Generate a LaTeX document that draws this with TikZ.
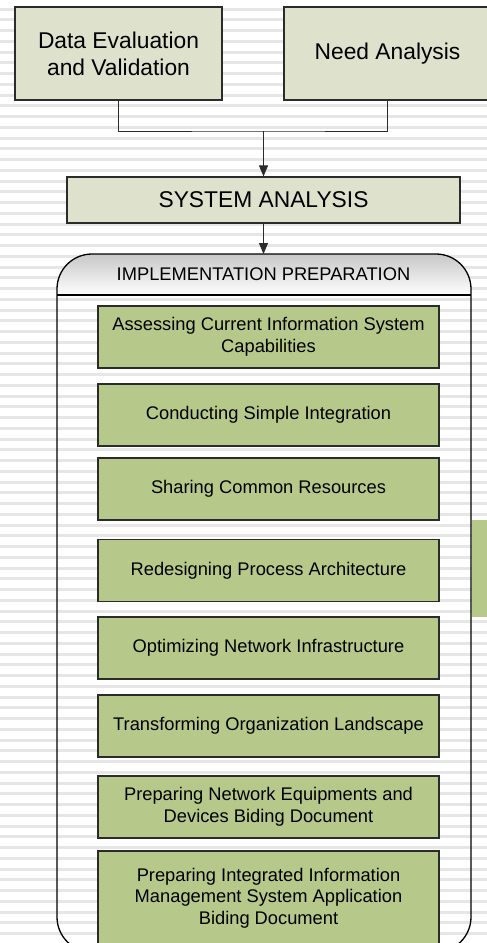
\documentclass[tikz,border=0pt]{standalone}
\usepackage{fontspec}
\setmainfont{Liberation Sans}
\usetikzlibrary{arrows.meta}
\definecolor{pale}{HTML}{DEE2CD}
\definecolor{leaf}{HTML}{B6C98A}
\definecolor{edge}{HTML}{2B2B2B}
\definecolor{stripe}{HTML}{E6E6E6}
\tikzset{
  topbox/.style={draw=edge, line width=1.2pt, fill=pale, inner sep=0pt, align=center,
    font=\fontsize{22.8}{26.7}\selectfont},
  greenbox/.style={draw=edge, line width=1.2pt, fill=leaf, inner sep=0pt, align=center,
    minimum width=341pt, minimum height=62pt, font=\fontsize{18.3}{21.7}\selectfont},
  link/.style={draw=edge, line width=1pt},
  arr/.style={link, -{Triangle[width=9pt,length=11pt]}},
}
\begin{document}
\begin{tikzpicture}[x=1pt,y=-1pt]
\useasboundingbox (0,0) rectangle (487,943);
\clip (0,0) rectangle (487,943);
\fill[white] (0,0) rectangle (487,943);
% background stripes
\foreach \k in {0,...,88} {
  \draw[stripe, line width=3pt] (0,{9+10.75*\k}) -- (487,{9+10.75*\k});
}
% top boxes
\node[topbox, minimum width=207pt, minimum height=93pt] (d1) at (118.5,53.5) {Data Evaluation\\and Validation};
\node[topbox, minimum width=207pt, minimum height=93pt] (d2) at (387.5,53.5) {Need Analysis};
\node[topbox, minimum width=393pt, minimum height=46pt] (sys) at (263.5,200) {SYSTEM ANALYSIS};
\coordinate (join) at (263.5,131);
\draw[link] (d1.south) |- (join) -| (d2.south);
\draw[arr] (join) -- (sys.north);
% container
\begin{scope}
  \clip[rounded corners=35pt] (57,952) rectangle (471,254);
  \shade[top color=black!22, bottom color=white] (57,254) rectangle (471,295);
\end{scope}
\draw[black, line width=1.3pt, rounded corners=35pt] (57,952) rectangle (471,254);
\draw[black, line width=1.3pt] (57,295) -- (471,295);
\coordinate (ctop) at (263.5,254);
\node[font=\fontsize{18.3}{21.7}\selectfont, inner sep=0pt] (hdr) at (263.5,274) {IMPLEMENTATION PREPARATION};
\draw[arr] (sys.south) -- (ctop);
% side tab
\fill[leaf] (471.6,520) rectangle (490,617);
% green boxes
\node[greenbox] (a) at (268.5,337) {Assessing Current Information System\\Capabilities};
\node[greenbox] (b) at (268.5,415) {Conducting Simple Integration};
\node[greenbox] (c) at (268.5,489) {Sharing Common Resources};
\node[greenbox] (e) at (268.5,570.5) {Redesigning Process Architecture};
\node[greenbox] (f) at (268.5,648) {Optimizing Network Infrastructure};
\node[greenbox] (g) at (268.5,726) {Transforming Organization Landscape};
\node[greenbox] (h) at (268.5,807) {Preparing Network Equipments and\\Devices Biding Document};
\node[greenbox, minimum height=94pt] (i) at (268.5,898) {Preparing Integrated Information\\Management System Application\\Biding Document};
\end{tikzpicture}
\end{document}
